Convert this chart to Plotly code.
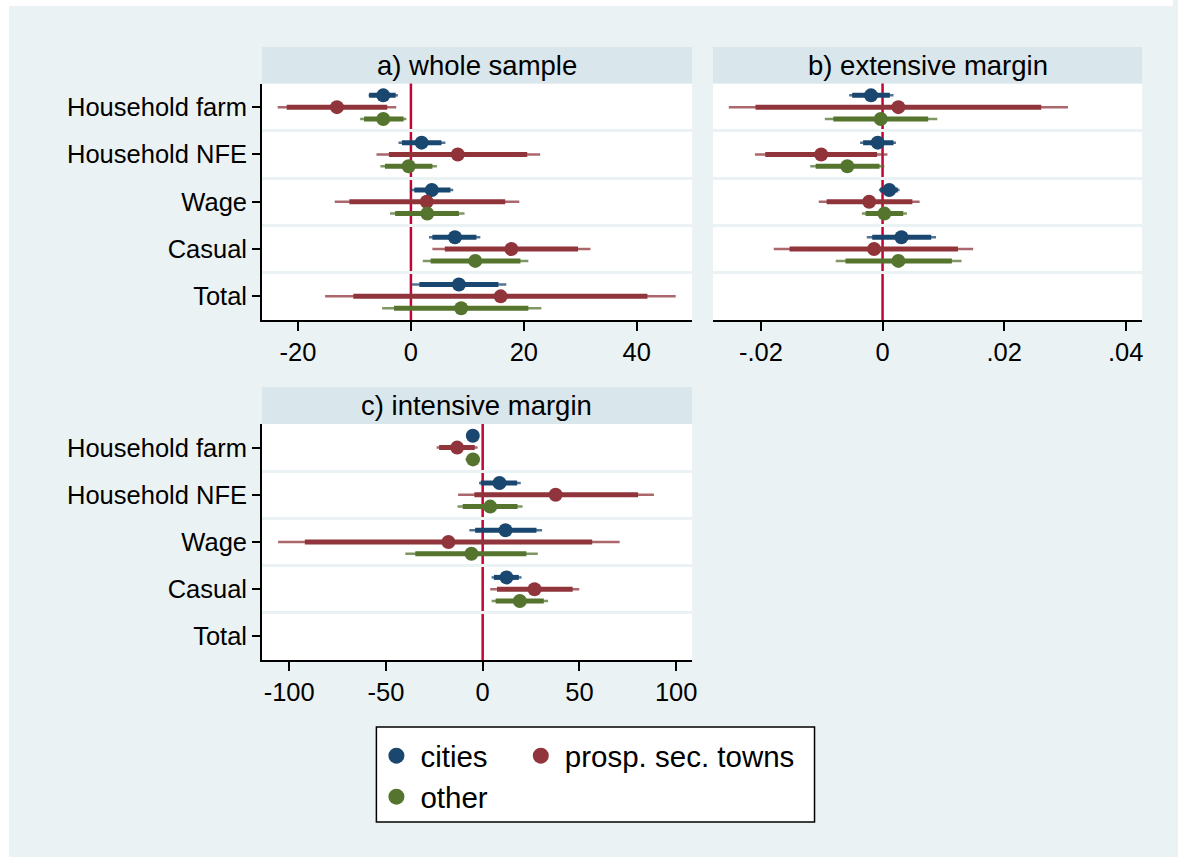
import plotly.graph_objects as go

W, H = 1178, 857

categories = ["Household farm", "Household NFE", "Wage", "Casual", "Total"]
series_names = ["cities", "prosp. sec. towns", "other"]
series_colors = ["#1A476F", "#90353B", "#55752F"]

# ---------------- panel a) whole sample ----------------
a_cities_est  = [-4.9, 1.9, 3.7, 7.8, 8.5]
a_cities_lo95 = [-7.4, -1.6, 0.6, 3.8, 1.5]
a_cities_hi95 = [-2.7, 5.4, 7.0, 11.6, 15.5]
a_cities_lo99 = [-7.5, -2.2, -0.1, 3.2, 0.2]
a_cities_hi99 = [-2.3, 6.1, 7.5, 12.3, 16.9]

a_prosp_est  = [-13.1, 8.3, 2.8, 17.8, 15.9]
a_prosp_lo95 = [-22.0, -3.9, -10.9, 6.0, -10.2]
a_prosp_hi95 = [-4.2, 20.6, 16.7, 29.6, 41.9]
a_prosp_lo99 = [-23.6, -6.1, -13.5, 3.8, -15.2]
a_prosp_hi99 = [-2.6, 22.9, 19.2, 31.8, 46.9]

a_other_est  = [-4.9, -0.4, 2.9, 11.4, 8.9]
a_other_lo95 = [-8.3, -4.6, -2.8, 3.5, -3.0]
a_other_hi95 = [-1.3, 3.8, 8.5, 19.4, 20.8]
a_other_lo99 = [-9.0, -5.4, -3.7, 2.1, -5.1]
a_other_hi99 = [-0.8, 4.6, 9.5, 20.8, 23.1]

# ---------------- panel b) extensive margin ----------------
b_cities_est  = [-0.0019, -0.0008, 0.0011, 0.0031, None]
b_cities_lo95 = [-0.0050, -0.0032, -0.0004, -0.0017, None]
b_cities_hi95 = [0.0012, 0.0018, 0.0025, 0.0080, None]
b_cities_lo99 = [-0.0055, -0.0037, -0.0006, -0.0026, None]
b_cities_hi99 = [0.0018, 0.0022, 0.0028, 0.0088, None]

b_prosp_est  = [0.0026, -0.0101, -0.0022, -0.0014, None]
b_prosp_lo95 = [-0.0209, -0.0193, -0.0092, -0.0153, None]
b_prosp_hi95 = [0.0261, -0.0009, 0.0049, 0.0124, None]
b_prosp_lo99 = [-0.0253, -0.0210, -0.0105, -0.0179, None]
b_prosp_hi99 = [0.0305, 0.0008, 0.0061, 0.0149, None]

b_other_est  = [-0.0003, -0.0058, 0.0003, 0.0026, None]
b_other_lo95 = [-0.0081, -0.0110, -0.0028, -0.0061, None]
b_other_hi95 = [0.0075, -0.0005, 0.0034, 0.0114, None]
b_other_lo99 = [-0.0095, -0.0119, -0.0034, -0.0077, None]
b_other_hi99 = [0.0090, 0.0003, 0.0040, 0.0130, None]

# ---------------- panel c) intensive margin ----------------
c_cities_est  = [-5.1, 8.7, 11.8, 12.3, None]
c_cities_lo95 = [-6.3, -1.0, -3.9, 5.8, None]
c_cities_hi95 = [-3.9, 17.8, 27.8, 18.7, None]
c_cities_lo99 = [-6.6, -1.9, -6.9, 4.6, None]
c_cities_hi99 = [-3.6, 19.7, 30.7, 20.1, None]

c_prosp_est  = [-13.2, 37.7, -17.7, 26.8, None]
c_prosp_lo95 = [-22.5, -4.3, -91.9, 7.4, None]
c_prosp_hi95 = [-4.1, 80.3, 56.6, 46.5, None]
c_prosp_lo99 = [-23.8, -12.7, -105.7, 3.9, None]
c_prosp_hi99 = [-2.6, 88.5, 70.8, 49.9, None]

c_other_est  = [-5.0, 3.9, -5.8, 19.2, None]
c_other_lo95 = [-8.0, -10.3, -34.8, 6.7, None]
c_other_hi95 = [-2.0, 18.0, 22.6, 31.6, None]
c_other_lo99 = [-8.9, -13.0, -40.0, 4.6, None]
c_other_hi99 = [-1.5, 20.6, 28.5, 33.8, None]

panel_titles = ["a) whole sample", "b) extensive margin", "c) intensive margin"]

# x tick labels
a_ticks = [-20, 0, 20, 40]
a_ticktext = ["-20", "0", "20", "40"]
b_ticks = [-0.02, 0, 0.02, 0.04]
b_ticktext = ["-.02", "0", ".02", ".04"]
c_ticks = [-100, -50, 0, 50, 100]
c_ticktext = ["-100", "-50", "0", "50", "100"]

panels = [
    dict(xa="x", ya="y", data=[
        (a_cities_est, a_cities_lo95, a_cities_hi95, a_cities_lo99, a_cities_hi99),
        (a_prosp_est, a_prosp_lo95, a_prosp_hi95, a_prosp_lo99, a_prosp_hi99),
        (a_other_est, a_other_lo95, a_other_hi95, a_other_lo99, a_other_hi99)]),
    dict(xa="x2", ya="y2", data=[
        (b_cities_est, b_cities_lo95, b_cities_hi95, b_cities_lo99, b_cities_hi99),
        (b_prosp_est, b_prosp_lo95, b_prosp_hi95, b_prosp_lo99, b_prosp_hi99),
        (b_other_est, b_other_lo95, b_other_hi95, b_other_lo99, b_other_hi99)]),
    dict(xa="x3", ya="y3", data=[
        (c_cities_est, c_cities_lo95, c_cities_hi95, c_cities_lo99, c_cities_hi99),
        (c_prosp_est, c_prosp_lo95, c_prosp_hi95, c_prosp_lo99, c_prosp_hi99),
        (c_other_est, c_other_lo95, c_other_hi95, c_other_lo99, c_other_hi99)]),
]

offsets = [-0.25, 0.0, 0.25]
legend_ids = ["legend", "legend2", "legend3"]

fig = go.Figure()

for pi, p in enumerate(panels):
    for si, (est, lo95, hi95, lo99, hi99) in enumerate(p["data"]):
        col = series_colors[si]
        xs99, ys99, xs95, ys95, xm, ym = [], [], [], [], [], []
        for ci, cat in enumerate(categories):
            if est[ci] is None:
                continue
            ypos = ci + 1 + offsets[si]
            xs99 += [lo99[ci], hi99[ci], None]
            ys99 += [ypos, ypos, None]
            xs95 += [lo95[ci], hi95[ci], None]
            ys95 += [ypos, ypos, None]
            xm.append(est[ci])
            ym.append(ypos)
        fig.add_trace(go.Scatter(x=xs99, y=ys99, mode="lines", xaxis=p["xa"], yaxis=p["ya"],
                                 line=dict(color=col, width=2.5), opacity=0.75,
                                 showlegend=False, hoverinfo="skip"))
        fig.add_trace(go.Scatter(x=xs95, y=ys95, mode="lines", xaxis=p["xa"], yaxis=p["ya"],
                                 line=dict(color=col, width=5),
                                 showlegend=False, hoverinfo="skip"))
        fig.add_trace(go.Scatter(x=xm, y=ym, mode="markers", xaxis=p["xa"], yaxis=p["ya"],
                                 marker=dict(color=col, size=14, line=dict(width=0)),
                                 name=series_names[si], showlegend=False))

# legend entries (marker keys only)
for si, name in enumerate(series_names):
    fig.add_trace(go.Scatter(x=[None], y=[None], mode="markers", name=name,
                             marker=dict(color=series_colors[si], size=16, line=dict(width=0)),
                             legend=legend_ids[si], showlegend=True, hoverinfo="skip"))

def px_x(v):
    return v / W

def px_y(v):
    return 1 - v / H

font_family = "Liberation Sans, Arial, sans-serif"
bg = "#EAF2F3"
strip = "#D9E6EB"

dom_a_x = [px_x(263), px_x(695)]
dom_b_x = [px_x(716), px_x(1147)]
dom_top_y = [px_y(320), px_y(83.5)]
dom_bot_y = [px_y(660), px_y(424)]

TICK_FS = 25.5

def xaxis_cfg(domain, rng, tickvals, ticktext, anchor):
    return dict(domain=domain, range=rng, tickmode="array", tickvals=tickvals, ticktext=ticktext,
                showgrid=False, zeroline=False, showline=True, linecolor="black", linewidth=1.5,
                ticks="outside", ticklen=9, tickwidth=1.5, tickcolor="black",
                tickfont=dict(family=font_family, size=TICK_FS, color="black"), anchor=anchor,
                fixedrange=True)

def yaxis_cfg(domain, anchor, show_labels):
    return dict(domain=domain, range=[5.5, 0.5], tickmode="array", tickvals=[1, 2, 3, 4, 5],
                ticktext=categories if show_labels else [""] * 5,
                showgrid=False, zeroline=False,
                showline=show_labels, linecolor="black", linewidth=1.5,
                ticks="outside" if show_labels else "", ticklen=8, tickwidth=1.5, tickcolor="black",
                tickfont=dict(family=font_family, size=TICK_FS, color="black"), anchor=anchor,
                showticklabels=show_labels,
                minor=dict(tickmode="array", tickvals=[1.5, 2.5, 3.5, 4.5], showgrid=True,
                           gridcolor=bg, gridwidth=2.5, ticks=""),
                fixedrange=True)

fig.update_layout(
    width=W, height=H,
    margin=dict(l=0, r=0, t=0, b=0),
    paper_bgcolor=bg, plot_bgcolor="white",
    font=dict(family=font_family, color="black"),
    xaxis=xaxis_cfg(dom_a_x, [-26.4, 49.8], a_ticks, a_ticktext, "y"),
    yaxis=yaxis_cfg(dom_top_y, "x", True),
    xaxis2=xaxis_cfg(dom_b_x, [-0.0279, 0.0427], b_ticks, b_ticktext, "y2"),
    yaxis2=yaxis_cfg(dom_top_y, "x2", False),
    xaxis3=xaxis_cfg(dom_a_x, [-114.1, 108.2], c_ticks, c_ticktext, "y3"),
    yaxis3=yaxis_cfg(dom_bot_y, "x3", True),
)

legend_common = dict(bgcolor="rgba(0,0,0,0)", borderwidth=0,
                     font=dict(family=font_family, size=29.5, color="black"),
                     xanchor="left", yanchor="middle", orientation="v", itemwidth=38)
fig.update_layout(
    legend=dict(x=px_x(374), y=px_y(756), **legend_common),
    legend2=dict(x=px_x(519), y=px_y(756), **legend_common),
    legend3=dict(x=px_x(374), y=px_y(797), **legend_common),
)

shapes = []
# white outer border strips
shapes.append(dict(type="rect", xref="paper", yref="paper", x0=0, x1=px_x(9), y0=0, y1=1,
                   fillcolor="white", line=dict(width=0), layer="below"))
shapes.append(dict(type="rect", xref="paper", yref="paper", x0=0, x1=1, y0=px_y(6), y1=1,
                   fillcolor="white", line=dict(width=0), layer="below"))
# header strips
for (x0, x1), (y0, y1) in [((263, 695), (47, 83.5)), ((716, 1147), (47, 83.5)), ((263, 695), (387, 424))]:
    shapes.append(dict(type="rect", xref="paper", yref="paper", x0=px_x(x0), x1=px_x(x1),
                       y0=px_y(y1), y1=px_y(y0), fillcolor=strip, line=dict(width=0), layer="below"))
# zero lines
for xa, ya in [("x", "y"), ("x2", "y2"), ("x3", "y3")]:
    shapes.append(dict(type="line", xref=xa, yref=ya + " domain", x0=0, x1=0, y0=0, y1=1,
                       line=dict(color="#C10534", width=2.5), layer="below"))
# legend box
shapes.append(dict(type="rect", xref="paper", yref="paper", x0=px_x(378), x1=px_x(818),
                   y0=px_y(822), y1=px_y(727), fillcolor="white",
                   line=dict(color="black", width=1.5), layer="below"))
fig.update_layout(shapes=shapes)

annotations = []
for title, (x0, x1), (y0, y1) in zip(panel_titles,
                                     [(263, 695), (716, 1147), (263, 695)],
                                     [(47, 83.5), (47, 83.5), (387, 424)]):
    annotations.append(dict(text=title, xref="paper", yref="paper",
                            x=px_x((x0 + x1) / 2), y=px_y((y0 + y1) / 2),
                            xanchor="center", yanchor="middle", showarrow=False,
                            font=dict(family=font_family, size=27.5, color="black")))
fig.update_layout(annotations=annotations)

fig.write_html("out.html")
